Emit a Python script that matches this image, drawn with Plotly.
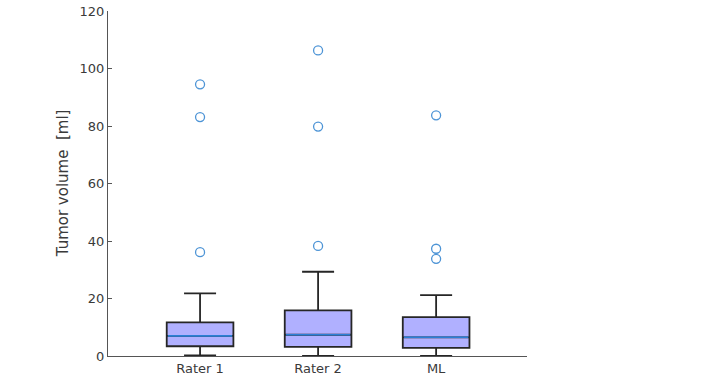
import plotly.graph_objects as go

categories = ["Rater 1", "Rater 2", "ML"]
positions = [1, 2, 3]
q1 = [3.4, 3.2, 2.8]
median = [7.0, 7.4, 6.5]
q3 = [11.7, 15.9, 13.5]
lower_whisker = [0.2, 0.0, 0.0]
upper_whisker = [21.8, 29.3, 21.2]
outliers = [
    [94.5, 83.1, 36.1],
    [106.3, 79.8, 38.3],
    [83.7, 37.3, 33.8],
]
y_ticks = [0, 20, 40, 60, 80, 100, 120]

box_width = 0.565
font = "DejaVu Sans, Arial, sans-serif"

fig = go.Figure()
fig.add_trace(go.Box(
    x=positions, q1=q1, median=median, q3=q3,
    lowerfence=lower_whisker, upperfence=upper_whisker,
    width=box_width, whiskerwidth=0.48,
    fillcolor="#b0b0ff", line=dict(color="#262626", width=1.8),
    boxpoints=False, showlegend=False, hoverinfo="skip",
))
for p, m in zip(positions, median):
    fig.add_trace(go.Scatter(
        x=[p - box_width / 2 + 0.01, p + box_width / 2 - 0.01], y=[m, m],
        mode="lines", line=dict(color="#2b7fd6", width=1.6),
        showlegend=False, hoverinfo="skip",
    ))
for p, vals in zip(positions, outliers):
    fig.add_trace(go.Scatter(
        x=[p] * len(vals), y=vals, mode="markers",
        marker=dict(symbol="circle-open", size=9, color="#4d94d6",
                    line=dict(width=1.3, color="#4d94d6")),
        showlegend=False, hoverinfo="skip",
    ))

fig.update_layout(
    width=704, height=382,
    margin=dict(l=108, r=177, t=11, b=26, autoexpand=False),
    paper_bgcolor="white", plot_bgcolor="white",
    font=dict(family=font, size=13, color="#3a3a3a"),
    annotations=[dict(
        text="Tumor volume  [ml]", xref="paper", yref="paper",
        x=-0.108, y=0.5, xanchor="center", yanchor="middle", textangle=-90,
        showarrow=False, font=dict(size=15, color="#3a3a3a"),
    )],
)
fig.update_xaxes(
    range=[0.22, 3.77], tickmode="array", tickvals=positions, ticktext=categories,
    showgrid=False, zeroline=False, showline=True, linecolor="#555555", linewidth=1,
    ticks="", tickfont=dict(size=13, color="#3a3a3a"), automargin=False,
)
fig.update_yaxes(
    range=[0, 120], tickmode="array", tickvals=y_ticks,
    showgrid=False, zeroline=False, showline=True, linecolor="#555555", linewidth=1,
    ticks="inside", ticklen=4, tickcolor="#555555",
    tickfont=dict(size=13, color="#3a3a3a"), automargin=False,
)

fig.write_html("out.html", config={"displayModeBar": False},
               post_script="document.body.style.margin='0';")
